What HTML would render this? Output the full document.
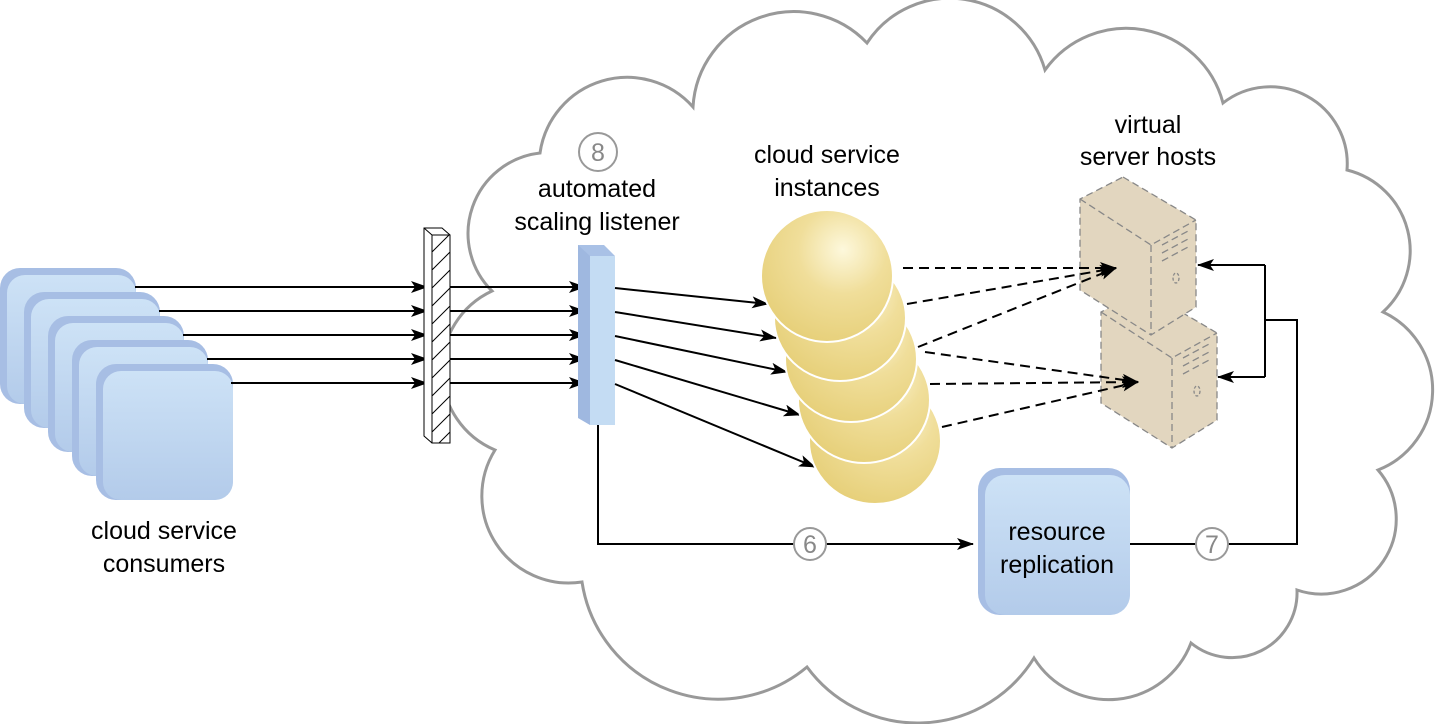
<!DOCTYPE html>
<html><head><meta charset="utf-8"><style>
html,body{margin:0;padding:0;background:#fff;}
svg{display:block;}
text{font-family:"Liberation Sans",Arial,sans-serif;font-size:25px;fill:#000;}
.n{fill:#888;font-size:25px;}
</style></head><body>
<svg width="1440" height="724" viewBox="0 0 1440 724" xmlns="http://www.w3.org/2000/svg">
<defs>
<linearGradient id="bl" x1="0" y1="0" x2="0" y2="1"><stop offset="0" stop-color="#cde2f6"/><stop offset="1" stop-color="#b3cbea"/></linearGradient>
<radialGradient id="sp" cx="0.62" cy="0.3" r="0.75"><stop offset="0" stop-color="#fdf8dc"/><stop offset="0.45" stop-color="#f0de9a"/><stop offset="1" stop-color="#e6cf78"/></radialGradient>
<marker id="ar" markerWidth="17" markerHeight="12" refX="16" refY="6" orient="auto" markerUnits="userSpaceOnUse"><path d="M0,0 L17,6 L0,12 L4,6 Z" fill="#000"/></marker>
<pattern id="hatch" width="18" height="18" patternUnits="userSpaceOnUse"><path d="M0,18 L18,0" stroke="#000" stroke-width="1"/></pattern>
</defs>

<!-- cloud -->
<path d="M495,450 A87,87 0 0 1 492,291 A81,81 0 0 1 540,153 A88,88 0 0 1 693,107 A101,101 0 0 1 867,43 A99,99 0 0 1 1045,70 A100,100 0 0 1 1223,103 A77,77 0 0 1 1347,170 A83,83 0 0 1 1383,312 A86,86 0 0 1 1378,470 A75,75 0 0 1 1297,590 A65,65 0 0 1 1191,643 A88,88 0 0 1 1034,658 A137,137 0 0 1 807,667 A138,138 0 0 1 582,582 A87,87 0 0 1 495,450 Z" fill="#fff" stroke="#999" stroke-width="3"/>

<!-- consumers -->
<g>
<rect x="0" y="268" width="136" height="136" rx="20" fill="#a7bee4"/><rect x="7" y="275" width="129" height="129" rx="18" fill="url(#bl)"/>
<rect x="24" y="292" width="136" height="136" rx="20" fill="#a7bee4"/><rect x="31" y="299" width="129" height="129" rx="18" fill="url(#bl)"/>
<rect x="48" y="316" width="136" height="136" rx="20" fill="#a7bee4"/><rect x="55" y="323" width="129" height="129" rx="18" fill="url(#bl)"/>
<rect x="72" y="340" width="136" height="136" rx="20" fill="#a7bee4"/><rect x="79" y="347" width="129" height="129" rx="18" fill="url(#bl)"/>
<rect x="96" y="364" width="137" height="136" rx="20" fill="#a7bee4"/><rect x="103" y="371" width="130" height="129" rx="18" fill="url(#bl)"/>
</g>
<text x="164" y="539" text-anchor="middle">cloud service</text>
<text x="164" y="572" text-anchor="middle">consumers</text>

<!-- arrows to firewall -->
<g stroke="#000" stroke-width="2" marker-end="url(#ar)">
<line x1="135" y1="287" x2="427" y2="287"/>
<line x1="159" y1="311" x2="427" y2="311"/>
<line x1="183" y1="335" x2="427" y2="335"/>
<line x1="207" y1="359" x2="427" y2="359"/>
<line x1="231" y1="383" x2="427" y2="383"/>
<line x1="450" y1="287" x2="585" y2="287"/>
<line x1="450" y1="311" x2="585" y2="311"/>
<line x1="450" y1="335" x2="585" y2="335"/>
<line x1="450" y1="359" x2="585" y2="359"/>
<line x1="450" y1="383" x2="585" y2="383"/>
</g>
<!-- firewall -->
<polygon points="424,228 442,228 450,235 450,443 432,443 424,436" fill="#fff" stroke="#000" stroke-width="1"/>
<rect x="432" y="235" width="18" height="208" fill="url(#hatch)" stroke="#000" stroke-width="1"/>
<line x1="424" y1="228" x2="432" y2="235" stroke="#000"/>

<!-- listener -->
<polygon points="578,245 590,245 590,425 578,418" fill="#9fb8e0"/>
<polygon points="578,245 604,245 615,256 590,256" fill="#a9c1e6"/>
<rect x="590" y="256" width="25" height="169" fill="#c4dcf3"/>
<circle cx="598" cy="152" r="19" fill="#fff" stroke="#999" stroke-width="2"/>
<text x="598" y="161" text-anchor="middle" class="n">8</text>
<text x="597" y="197" text-anchor="middle">automated</text>
<text x="597" y="230" text-anchor="middle">scaling listener</text>

<!-- listener arrows to spheres -->
<g stroke="#000" stroke-width="2" marker-end="url(#ar)">
<line x1="615" y1="288" x2="768" y2="304"/>
<line x1="615" y1="312" x2="776" y2="338"/>
<line x1="615" y1="336" x2="787" y2="372"/>
<line x1="615" y1="360" x2="800" y2="415"/>
<line x1="615" y1="384" x2="815" y2="467"/>
</g>

<!-- spheres -->
<g stroke="#fff" stroke-width="2" fill="url(#sp)">
<ellipse cx="875" cy="441" rx="66" ry="63"/>
<ellipse cx="864" cy="400" rx="66" ry="63"/>
<ellipse cx="851" cy="359" rx="66" ry="63"/>
<ellipse cx="840" cy="318" rx="66" ry="63"/>
<ellipse cx="827" cy="276" rx="66" ry="66"/>
</g>
<text x="827" y="163" text-anchor="middle">cloud service</text>
<text x="827" y="196" text-anchor="middle">instances</text>

<!-- servers -->
<g fill="#e2d6bf" stroke="#888" stroke-width="1.3" stroke-dasharray="7,4">
<g transform="translate(21,113)">
<polygon points="1123,177 1196,220 1196,307 1151,335 1080,290 1080,199"/>
<polyline points="1080,199 1151,245 1196,220" fill="none"/>
<line x1="1151" y1="245" x2="1151" y2="335"/>
<line x1="1162" y1="245" x2="1190" y2="230"/><line x1="1162" y1="253" x2="1190" y2="238"/><line x1="1162" y1="261" x2="1190" y2="246"/>
<ellipse cx="1176" cy="278" rx="3" ry="5" fill="none" stroke-dasharray="3,2"/>
</g>
<polygon points="1123,177 1196,220 1196,307 1151,335 1080,290 1080,199"/>
<polyline points="1080,199 1151,245 1196,220" fill="none"/>
<line x1="1151" y1="245" x2="1151" y2="335"/>
<line x1="1162" y1="245" x2="1190" y2="230"/><line x1="1162" y1="253" x2="1190" y2="238"/><line x1="1162" y1="261" x2="1190" y2="246"/>
<ellipse cx="1176" cy="278" rx="3" ry="5" fill="none" stroke-dasharray="3,2"/>
</g>
<text x="1148" y="133" text-anchor="middle">virtual</text>
<text x="1148" y="165" text-anchor="middle">server hosts</text>

<!-- dashed lines -->
<g stroke="#000" stroke-width="2" stroke-dasharray="10,6" fill="none" marker-end="url(#ar)">
<line x1="903" y1="268" x2="1116" y2="268"/>
<line x1="907" y1="304" x2="1116" y2="268"/>
<line x1="918" y1="347" x2="1116" y2="268"/>
<line x1="925" y1="352" x2="1138" y2="382"/>
<line x1="930" y1="384" x2="1138" y2="382"/>
<line x1="942" y1="427" x2="1138" y2="382"/>
</g>

<!-- feedback lines -->
<g stroke="#000" stroke-width="2" fill="none">
<polyline points="598,425 598,544 973,544" marker-end="url(#ar)"/>
<polyline points="1130,544 1297,544 1297,320 1265,320"/>
<line x1="1265" y1="265" x2="1265" y2="377"/>
<line x1="1265" y1="265" x2="1198" y2="265" marker-end="url(#ar)"/>
<line x1="1265" y1="377" x2="1218" y2="377" marker-end="url(#ar)"/>
</g>
<circle cx="810" cy="544" r="16" fill="#fff" stroke="#999" stroke-width="2"/>
<text x="810" y="553" text-anchor="middle" class="n">6</text>
<circle cx="1212" cy="544" r="16" fill="#fff" stroke="#999" stroke-width="2"/>
<text x="1212" y="553" text-anchor="middle" class="n">7</text>

<!-- resource replication -->
<rect x="978" y="468" width="152" height="147" rx="22" fill="#a7bee4"/>
<rect x="985" y="475" width="145" height="140" rx="20" fill="url(#bl)"/>
<text x="1057" y="540" text-anchor="middle">resource</text>
<text x="1057" y="573" text-anchor="middle">replication</text>
</svg>
</body></html>
